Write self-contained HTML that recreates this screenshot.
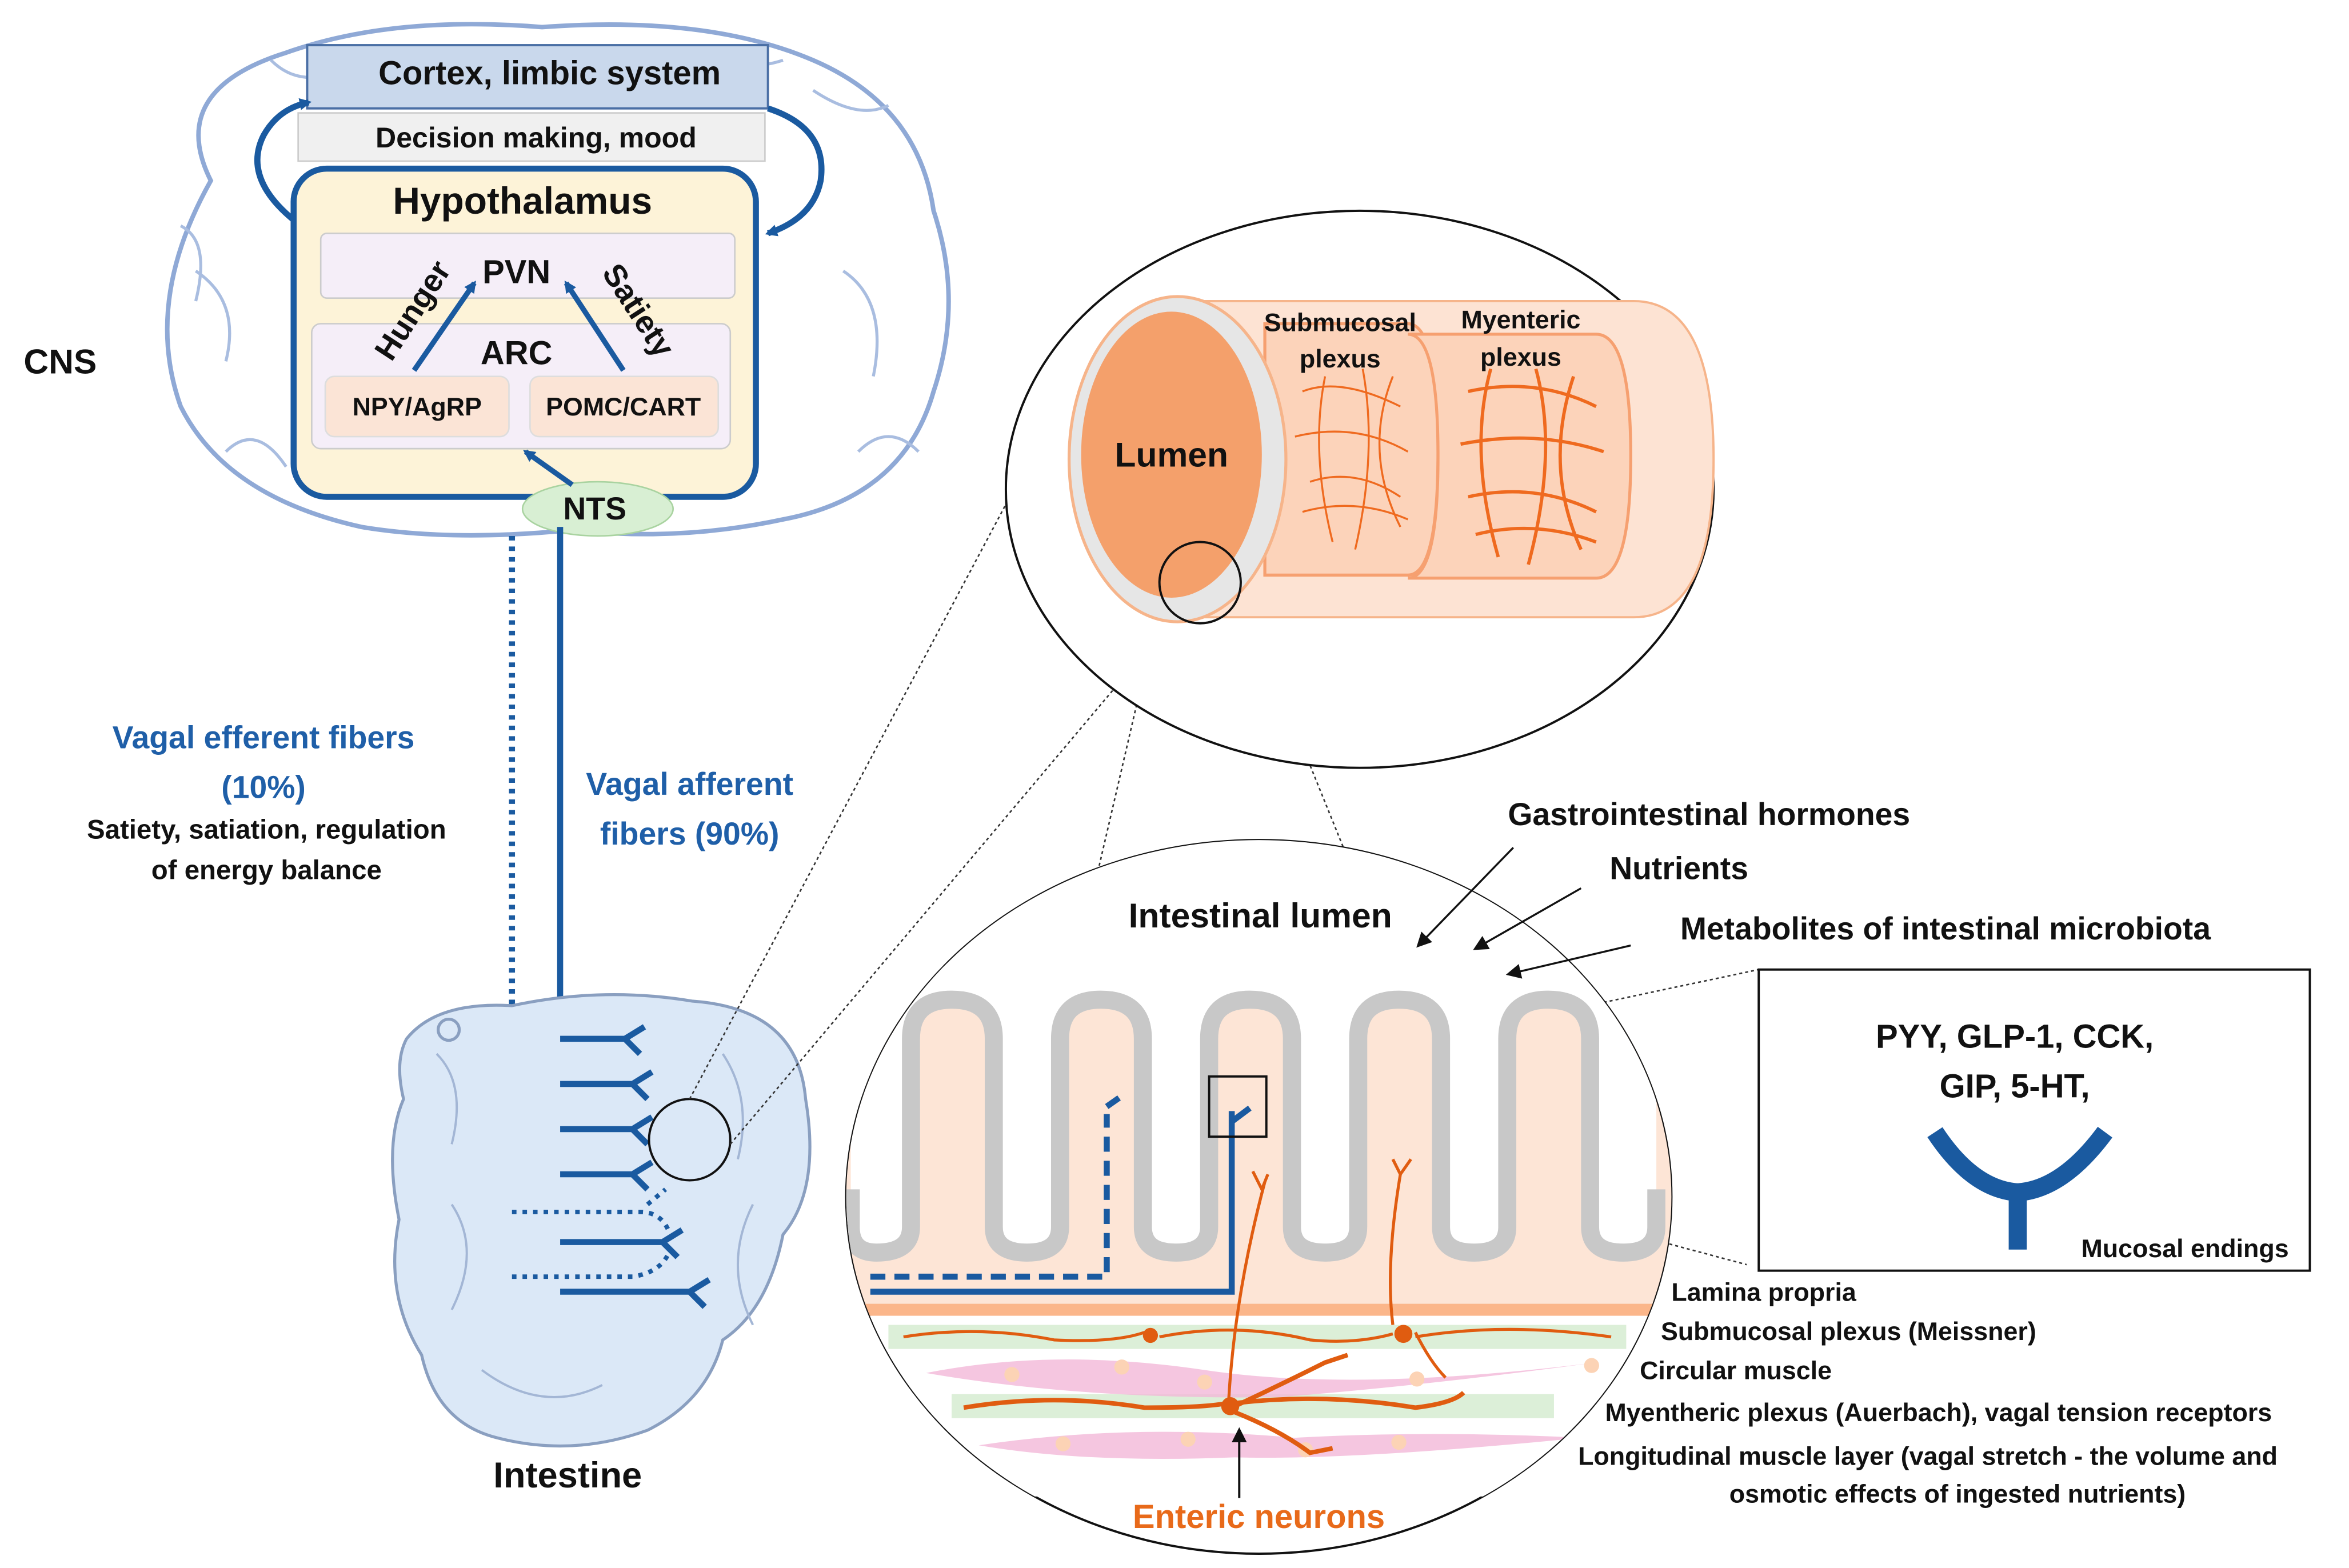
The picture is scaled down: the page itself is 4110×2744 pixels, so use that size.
<!DOCTYPE html>
<html><head><meta charset="utf-8"><style>
html,body{margin:0;padding:0;background:#fff}
svg{display:block}
text{font-family:"Liberation Sans",sans-serif;font-weight:bold}
</style></head><body>
<svg width="4110" height="2744" viewBox="0 0 1560 1041.5" preserveAspectRatio="none" xmlns="http://www.w3.org/2000/svg">
<defs>
<marker id="ah" markerWidth="8" markerHeight="8" refX="6" refY="4" orient="auto" markerUnits="userSpaceOnUse"><path d="M0,0 L8,4 L0,8 z" fill="#1a5aa0"/></marker>
<marker id="ak" markerWidth="10" markerHeight="10" refX="8" refY="5" orient="auto" markerUnits="userSpaceOnUse"><path d="M0,0 L10,5 L0,10 z" fill="#111"/></marker>
<clipPath id="cc"><ellipse cx="836" cy="795" rx="274" ry="237"/></clipPath>
</defs>
<rect width="1560" height="1042" fill="#fff"/>
<!-- brain -->
<path d="M140,120 Q110,60 190,35 Q260,10 360,18 Q470,10 540,40 Q610,70 620,140 Q640,200 620,260 Q600,330 520,345 Q450,360 380,352 Q300,360 240,350 Q150,330 120,270 Q95,200 140,120 z" fill="#fff" stroke="#8fa9d6" stroke-width="3"/>
<path d="M130,180 Q160,200 150,240 M560,180 Q590,200 580,250 M570,300 Q590,280 610,300 M150,300 Q170,280 190,310 M120,150 Q140,160 130,200 M180,40 Q200,60 230,45 M470,30 Q490,50 520,40 M540,60 Q570,80 590,70" fill="none" stroke="#a9bde0" stroke-width="2"/>
<rect x="204" y="30" width="306" height="42" fill="#c9d8ec" stroke="#4a6fa5" stroke-width="1.5"/>
<text x="365" y="56" font-size="22" text-anchor="middle" fill="#111">Cortex, limbic system</text>
<rect x="198" y="75" width="310" height="32" fill="#f0f0f0" stroke="#ccc"/>
<text x="356" y="98" font-size="19" text-anchor="middle" fill="#111">Decision making, mood</text>
<path d="M200,150 Q160,120 175,90 Q185,72 205,68" fill="none" stroke="#1a5aa0" stroke-width="4" marker-end="url(#ah)"/>
<path d="M510,72 Q550,85 545,120 Q540,145 510,155" fill="none" stroke="#1a5aa0" stroke-width="4" marker-end="url(#ah)"/>
<rect x="195" y="112" width="307" height="218" rx="22" fill="#fdf3d8" stroke="#1a5aa0" stroke-width="4"/>
<text x="347" y="142" font-size="25" text-anchor="middle" fill="#111">Hypothalamus</text>
<rect x="213" y="155" width="275" height="43" rx="4" fill="#f5eef8" stroke="#ccc"/>
<rect x="207" y="215" width="278" height="83" rx="6" fill="#f5eef8" stroke="#ccc"/>
<text x="343" y="188" font-size="22" text-anchor="middle" fill="#111">PVN</text>
<text x="343" y="242" font-size="22" text-anchor="middle" fill="#111">ARC</text>
<rect x="216" y="250" width="122" height="40" rx="6" fill="#fbe4d6" stroke="#ddd"/>
<rect x="352" y="250" width="125" height="40" rx="6" fill="#fbe4d6" stroke="#ddd"/>
<text x="277" y="276" font-size="17" text-anchor="middle" fill="#111">NPY/AgRP</text>
<text x="414" y="276" font-size="17" text-anchor="middle" fill="#111">POMC/CART</text>
<line x1="275" y1="246" x2="315" y2="188" stroke="#1a5aa0" stroke-width="3.5" marker-end="url(#ah)"/>
<line x1="414" y1="246" x2="376" y2="188" stroke="#1a5aa0" stroke-width="3.5" marker-end="url(#ah)"/>
<text x="0" y="0" font-size="21" text-anchor="middle" fill="#111" transform="translate(280,210) rotate(-57)">Hunger</text>
<text x="0" y="0" font-size="21" text-anchor="middle" fill="#111" transform="translate(418,210) rotate(57)">Satiety</text>
<ellipse cx="397" cy="338" rx="50" ry="18" fill="#d8efd3" stroke="#a9d3a0"/>
<text x="395" y="345" font-size="21" text-anchor="middle" fill="#111">NTS</text>
<line x1="380" y1="322" x2="349" y2="300" stroke="#1a5aa0" stroke-width="3.5" marker-end="url(#ah)"/>
<text x="40" y="248" font-size="23" text-anchor="middle" fill="#111">CNS</text>
<!-- vagal -->
<line x1="372" y1="350" x2="372" y2="858" stroke="#1a5aa0" stroke-width="4"/>
<line x1="340" y1="356" x2="340" y2="848" stroke="#1a5aa0" stroke-width="4" stroke-dasharray="3,4"/>
<text x="175" y="497" font-size="21" text-anchor="middle" fill="#1f5fa8">Vagal efferent fibers</text>
<text x="175" y="530" font-size="21" text-anchor="middle" fill="#1f5fa8">(10%)</text>
<text x="177" y="557" font-size="18" text-anchor="middle" fill="#111">Satiety, satiation, regulation</text>
<text x="177" y="584" font-size="18" text-anchor="middle" fill="#111">of energy balance</text>
<text x="458" y="528" font-size="21" text-anchor="middle" fill="#1f5fa8">Vagal afferent</text>
<text x="458" y="561" font-size="21" text-anchor="middle" fill="#1f5fa8">fibers (90%)</text>
<!-- intestine -->
<path d="M270,690 Q290,665 340,668 Q400,655 460,665 Q530,670 535,730 Q545,790 520,820 Q510,870 480,890 Q470,930 430,950 Q380,968 330,955 Q290,945 280,900 Q255,860 265,810 Q255,760 268,730 Q262,705 270,690 z" fill="#dbe8f7" stroke="#8a9fc0" stroke-width="2"/>
<path d="M290,700 Q310,720 300,760 M300,800 Q320,830 300,870 M480,700 Q500,730 490,770 M500,800 Q480,840 500,880 M320,910 Q360,940 400,920" fill="none" stroke="#a3b6d5" stroke-width="1.5"/>
<circle cx="298" cy="684" r="7" fill="none" stroke="#8a9fc0" stroke-width="2"/>
<g stroke="#1a5aa0" stroke-width="4" fill="none">
<path d="M372,690 H415 M415,690 L428,682 M415,690 L425,700"/>
<path d="M372,720 H420 M420,720 L433,712 M420,720 L430,730"/>
<path d="M372,750 H420 M420,750 L433,742 M420,750 L430,760"/>
<path d="M372,780 H420 M420,780 L433,772 M420,780 L430,790"/>
<path d="M372,825 H440 M440,825 L453,817 M440,825 L450,835"/>
<path d="M372,858 H458 M458,858 L471,850 M458,858 L468,868"/>
</g>
<path d="M340,805 H425 Q440,805 445,820 M340,848 H420 Q440,845 445,830 M430,800 L442,790" stroke="#1a5aa0" stroke-width="3" fill="none" stroke-dasharray="3,4"/>
<circle cx="458" cy="757" r="27" fill="none" stroke="#111" stroke-width="1.5"/>
<text x="377" y="988" font-size="24" text-anchor="middle" fill="#111">Intestine</text>
<!-- dotted connectors -->
<g stroke="#333" stroke-width="1" stroke-dasharray="2,2" fill="none">
<line x1="458" y1="730" x2="668" y2="335"/>
<line x1="485" y1="760" x2="742" y2="455"/>
<line x1="773" y1="390" x2="730" y2="575"/>
<line x1="822" y1="390" x2="893" y2="565"/>
<line x1="842" y1="713" x2="1168" y2="644"/>
<line x1="842" y1="755" x2="1160" y2="840"/>
</g>
<!-- top ellipse -->
<ellipse cx="903" cy="325" rx="235" ry="185" fill="#fff" stroke="#111" stroke-width="1.5"/>
<path d="M778,200 H1085 Q1138,200 1138,305 Q1138,410 1085,410 H778 z" fill="#fde3d3" stroke="#f6b48a" stroke-width="1.5"/>
<path d="M840,215 H935 Q955,215 955,300 Q955,382 935,382 H840 z" fill="#fcd3ba" stroke="#f6a070" stroke-width="2"/>
<path d="M935,222 H1060 Q1083,222 1083,303 Q1083,384 1060,384 H935 Q955,384 955,303 Q955,222 935,222 z" fill="#fcd3ba" stroke="#f6a070" stroke-width="2"/>
<ellipse cx="782" cy="305" rx="72" ry="108" fill="#e6e6e6" stroke="#f6b48a" stroke-width="2"/>
<ellipse cx="778" cy="302" rx="60" ry="95" fill="#f4a06b"/>
<text x="778" y="310" font-size="23" text-anchor="middle" fill="#111">Lumen</text>
<g stroke="#ef6a1f" stroke-width="1.3" fill="none">
<path d="M865,260 Q890,250 930,270 M860,290 Q900,280 935,300 M870,320 Q900,310 930,330 M880,250 Q870,300 885,360 M905,245 Q915,300 900,365 M925,250 Q905,300 930,350 M865,340 Q900,330 935,345"/>
</g>
<g stroke="#ef6a1f" stroke-width="2.2" fill="none">
<path d="M975,260 Q1020,250 1060,270 M970,295 Q1020,285 1065,300 M975,330 Q1020,320 1060,340 M990,245 Q975,300 995,370 M1020,245 Q1035,300 1015,375 M1045,250 Q1025,310 1050,365 M980,355 Q1020,345 1060,360"/>
</g>
<text x="890" y="220" font-size="17" text-anchor="middle" fill="#111">Submucosal</text>
<text x="890" y="244" font-size="17" text-anchor="middle" fill="#111">plexus</text>
<text x="1010" y="218" font-size="17" text-anchor="middle" fill="#111">Myenteric</text>
<text x="1010" y="243" font-size="17" text-anchor="middle" fill="#111">plexus</text>
<circle cx="797" cy="387" r="27" fill="none" stroke="#111" stroke-width="1.5"/>
<!-- lower circle -->
<ellipse cx="836" cy="795" rx="274" ry="237" fill="#fff" stroke="#111" stroke-width="1.5"/>
<g clip-path="url(#cc)">
<path d="M560,664 H1115 V868 H560 z" fill="#fde5d6"/>
<rect x="540" y="550" width="600" height="114" fill="#fff"/>
<path d="M605,640 Q605,690 605,690 L605,815 Q605,832 582,832 Q565,832 565,815 L565,700 L540,700 L540,640 z" fill="#fff"/>
<path d="M604,690 Q604,663 632,663 Q661,663 661,690 V640 H604 z" fill="#fff"/>
<path d="M660,640 V815 Q660,832 682,832 Q704,832 704,815 V640 z" fill="#fff"/>
<path d="M759,640 V815 Q759,832 781,832 Q803,832 803,815 V640 z" fill="#fff"/>
<path d="M858,640 V815 Q858,832 880,832 Q902,832 902,815 V640 z" fill="#fff"/>
<path d="M957,640 V815 Q957,832 979,832 Q1001,832 1001,815 V640 z" fill="#fff"/>
<path d="M1056,640 V815 Q1056,832 1078,832 Q1100,832 1100,815 V640 z" fill="#fff"/>
<path d="M703,690 Q703,663 731,663 Q760,663 760,690 V640 H703 z M802,690 Q802,663 830,663 Q859,663 859,690 V640 H802 z M901,690 Q901,663 929,663 Q958,663 958,690 V640 H901 z M1000,690 Q1000,663 1028,663 Q1057,663 1057,690 V640 H1000 z" fill="#fff"/>
<path d="M565,790 V815 Q565,832 582,832 Q605,832 605,815 L605,690 Q605,664 632,664 Q660,664 660,690 L660,815 Q660,832 682,832 Q704,832 704,815 L704,690 Q704,664 731,664 Q759,664 759,690 L759,815 Q759,832 781,832 Q803,832 803,815 L803,690 Q803,664 830,664 Q858,664 858,690 L858,815 Q858,832 880,832 Q902,832 902,815 L902,690 Q902,664 929,664 Q957,664 957,690 L957,815 Q957,832 979,832 Q1001,832 1001,815 L1001,690 Q1001,664 1028,664 Q1056,664 1056,690 L1056,815 Q1056,832 1078,832 Q1100,832 1100,815 L1100,790" fill="none" stroke="#c8c8c8" stroke-width="12"/>
<rect x="560" y="866" width="560" height="8" fill="#fbb68a"/>
<rect x="560" y="874" width="560" height="120" fill="#fff"/>
<rect x="590" y="880" width="490" height="16" fill="#dcefd8"/>
<rect x="632" y="926" width="400" height="16" fill="#dcefd8"/>
<path d="M615,912 Q700,895 800,910 Q900,925 1060,905 Q950,920 850,928 Q720,930 615,912 z" fill="#f3b8d8" opacity="0.8"/>
<path d="M650,960 Q750,945 860,955 Q950,950 1050,955 Q900,970 820,968 Q720,972 650,960 z" fill="#f3b8d8" opacity="0.8"/>
<g fill="#fcd3b5"><circle cx="672" cy="913" r="5"/><circle cx="745" cy="908" r="5"/><circle cx="800" cy="918" r="5"/><circle cx="941" cy="916" r="5"/><circle cx="1057" cy="907" r="5"/><circle cx="706" cy="959" r="5"/><circle cx="789" cy="956" r="5"/><circle cx="867" cy="963" r="5"/><circle cx="929" cy="958" r="5"/></g>
<g stroke="#e05c10" stroke-width="2" fill="none">
<path d="M600,888 Q650,880 700,890 Q740,892 760,885 M770,888 Q820,878 870,890 Q900,893 925,886 M940,888 Q1000,878 1070,888"/>
<path d="M940,885 Q950,905 960,915"/>
<path d="M925,880 Q920,840 930,780 M925,770 L930,780 L937,770"/>
<path d="M840,785 Q820,860 816,930 M832,778 L838,790 L842,780"/>
</g>
<g stroke="#e05c10" stroke-width="3" fill="none">
<path d="M640,935 Q700,925 760,935 Q800,935 815,932 M820,932 Q880,925 940,935 Q965,932 972,925 M818,935 Q850,920 880,905 L895,900 M820,938 Q850,950 870,965 L885,962"/>
</g>
<circle cx="764" cy="887" r="5" fill="#e05c10"/><circle cx="932" cy="886" r="6" fill="#e05c10"/><circle cx="817" cy="934" r="6" fill="#e05c10"/>
<path d="M578,848 H735 V740 M735,735 L745,728" stroke="#1a5aa0" stroke-width="4" fill="none" stroke-dasharray="10,6"/>
<path d="M578,858 H818 V738 M818,745 L830,736" stroke="#1a5aa0" stroke-width="4" fill="none"/>
</g>
<rect x="803" y="715" width="38" height="40" fill="none" stroke="#111" stroke-width="1.5"/>
<line x1="823" y1="995" x2="823" y2="950" stroke="#111" stroke-width="1.5" marker-end="url(#ak)"/>
<text x="836" y="1015" font-size="22" text-anchor="middle" fill="#e86a1a">Enteric neurons</text>
<text x="837" y="616" font-size="23" text-anchor="middle" fill="#111">Intestinal lumen</text>
<text x="1135" y="548" font-size="21" text-anchor="middle" fill="#111">Gastrointestinal hormones</text>
<text x="1115" y="584" font-size="21" text-anchor="middle" fill="#111">Nutrients</text>
<text x="1292" y="624" font-size="21" text-anchor="middle" fill="#111">Metabolites of intestinal microbiota</text>
<line x1="1005" y1="563" x2="942" y2="628" stroke="#111" stroke-width="1.3" marker-end="url(#ak)"/>
<line x1="1050" y1="590" x2="980" y2="630" stroke="#111" stroke-width="1.3" marker-end="url(#ak)"/>
<line x1="1083" y1="628" x2="1002" y2="647" stroke="#111" stroke-width="1.3" marker-end="url(#ak)"/>
<rect x="1168" y="644" width="366" height="200" fill="#fff" stroke="#111" stroke-width="1.5"/>
<text x="1338" y="696" font-size="22" text-anchor="middle" fill="#111">PYY, GLP-1, CCK,</text>
<text x="1338" y="729" font-size="22" text-anchor="middle" fill="#111">GIP, 5-HT,</text>
<path d="M1285,752 Q1310,790 1340,792 Q1370,790 1398,752 M1340,792 V830" stroke="#1a5aa0" stroke-width="12" fill="none"/>
<text x="1520" y="835" font-size="17" text-anchor="end" fill="#111">Mucosal endings</text>
<g font-size="17" fill="#111">
<text x="1110" y="864">Lamina propria</text>
<text x="1103" y="890">Submucosal plexus (Meissner)</text>
<text x="1089" y="916">Circular muscle</text>
<text x="1066" y="944">Myentheric plexus (Auerbach), vagal tension receptors</text>
<text x="1048" y="973">Longitudinal muscle layer (vagal stretch - the volume and</text>
<text x="1300" y="998" text-anchor="middle">osmotic effects of ingested nutrients)</text>
</g>
</svg>
</body></html>
